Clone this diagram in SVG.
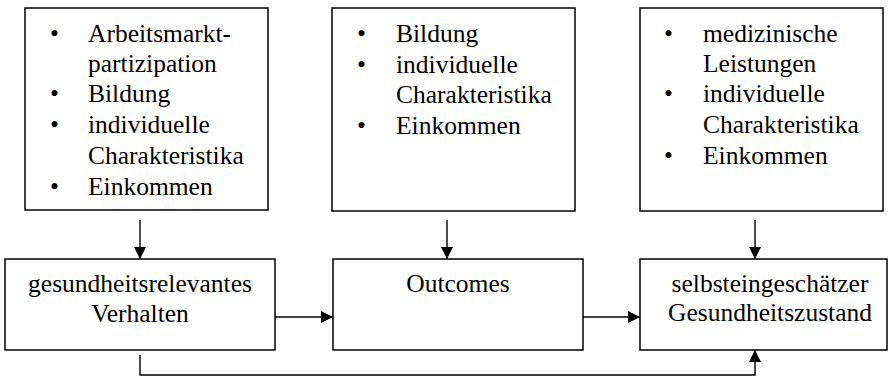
<svg xmlns="http://www.w3.org/2000/svg" width="888" height="377" viewBox="0 0 888 377">
<defs>
<marker id="ah" viewBox="0 0 12 12" refX="12" refY="6" markerWidth="12" markerHeight="12" markerUnits="userSpaceOnUse" orient="auto">
<path d="M0,0 L12,6 L0,12 Z" fill="#000"/>
</marker>
</defs>
<style>
.box{fill:#fff;stroke:#000;stroke-width:1.5}
text{font-family:"Liberation Serif","Times New Roman",serif;font-size:25.5px;fill:#000}
.c{text-anchor:middle}
.con{fill:none;stroke:#000;stroke-width:1.4;marker-end:url(#ah)}
</style>
<rect width="888" height="377" fill="#fff"/>
<g id="top1">
<rect class="box" x="25" y="8" width="243" height="202"/>
<text x="50" y="42">•</text><text x="88" y="42">Arbeitsmarkt-</text>
<text x="88" y="72">partizipation</text>
<text x="50" y="102">•</text><text x="88" y="102">Bildung</text>
<text x="50" y="133">•</text><text x="88" y="133">individuelle</text>
<text x="88" y="164">Charakteristika</text>
<text x="50" y="195">•</text><text x="88" y="195">Einkommen</text>
</g>
<g id="top2">
<rect class="box" x="332" y="8" width="243" height="203"/>
<text x="357" y="42">•</text><text x="396" y="42">Bildung</text>
<text x="357" y="73">•</text><text x="396" y="73">individuelle</text>
<text x="396" y="103">Charakteristika</text>
<text x="357" y="134">•</text><text x="396" y="134">Einkommen</text>
</g>
<g id="top3">
<rect class="box" x="640" y="8" width="243" height="203"/>
<text x="664" y="42">•</text><text x="703" y="42">medizinische</text>
<text x="703" y="72">Leistungen</text>
<text x="664" y="102">•</text><text x="703" y="102">individuelle</text>
<text x="703" y="133">Charakteristika</text>
<text x="664" y="164">•</text><text x="703" y="164">Einkommen</text>
</g>
<g id="verhalten">
<rect class="box" x="5" y="259" width="270" height="91"/>
<text class="c" x="140" y="292">gesundheitsrelevantes</text>
<text class="c" x="140" y="322">Verhalten</text>
</g>
<g id="outcomes">
<rect class="box" x="333" y="259" width="250" height="91"/>
<text class="c" x="458" y="292">Outcomes</text>
</g>
<g id="zustand">
<rect class="box" x="640" y="259" width="247" height="91"/>
<text class="c" x="770" y="292">selbsteingeschätzer</text>
<text class="c" x="770" y="321">Gesundheitszustand</text>
</g>
<g id="connectors">
<path class="con" d="M140,220 V259"/>
<path class="con" d="M447,220 V259"/>
<path class="con" d="M755,220 V259"/>
<path class="con" d="M275,317 H333"/>
<path class="con" d="M583,317 H640"/>
<path class="con" d="M140,355 V375 H755 V350"/>
</g>
</svg>
